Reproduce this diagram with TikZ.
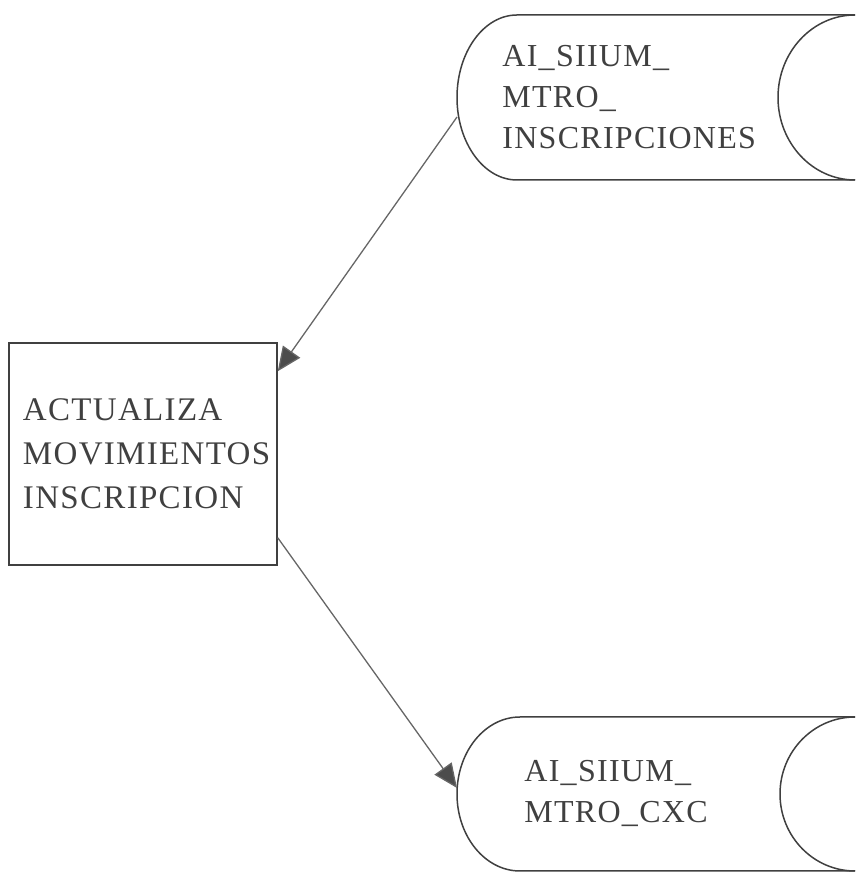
\documentclass[tikz,border=0pt]{standalone}
\usepackage{fontspec}
\newfontfamily\diagfont{Liberation Serif}[LetterSpace=4]
\usetikzlibrary{arrows.meta,positioning}

\begin{document}
\begin{tikzpicture}[x=1pt, y=1pt, thick]

		\tikzstyle{proc}=[rectangle, draw=black!75, line width=1.5pt, minimum width=268pt, minimum height=222pt, text width=240pt, inner sep=14pt, align=left, text=black!75, font=\diagfont\fontsize{33}{44}\selectfont]
		\tikzstyle{storetext}=[anchor=west, align=left, inner sep=0pt, text=black!75, font=\diagfont\fontsize{32}{41}\selectfont]
		\tikzstyle{outline}=[draw=black!75, line width=1.5pt]
		\tikzstyle{flow}=[-{Triangle[length=24pt, width=21pt, fill=black!70]}, draw=black!60, line width=1.3pt]

		\useasboundingbox (0,0) rectangle (855,873);

		\node[proc] (upd) at (143,419) {ACTUALIZA\\MOVIMIENTOS\\INSCRIPCION\\[-10pt]};

		\node[storetext] (insc) at (502,776) {AI\_SIIUM\_\\MTRO\_\\INSCRIPCIONES};
		\node[storetext] (cxc) at (524,80) {AI\_SIIUM\_\\MTRO\_CXC};

		% Data store outlines
		\draw[outline] (855,858) -- (517,858) arc[start angle=90, end angle=270, x radius=60, y radius=82.5] -- (855,693);
		\draw[outline] (855,858) arc[start angle=90, end angle=270, x radius=77, y radius=82.5];

		\draw[outline] (855,156) -- (520,156) arc[start angle=90, end angle=270, x radius=63, y radius=77] -- (855,2);
		\draw[outline] (855,156) arc[start angle=90, end angle=270, x radius=75, y radius=77];

		\coordinate (inscw) at (457,756);
		\coordinate (cxcw) at (457,85);
		\coordinate (updin) at ([yshift=-29pt]upd.north east);
		\coordinate (updout) at ([yshift=28pt]upd.south east);

		% Flows
		\draw[flow] (inscw) -- (updin);
		\draw[flow] (updout) -- (cxcw);

\end{tikzpicture}
\end{document}
